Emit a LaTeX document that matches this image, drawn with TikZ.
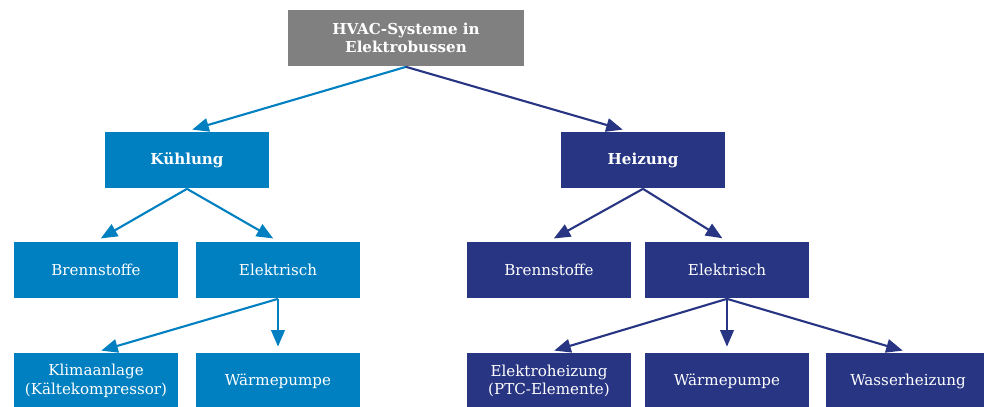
\documentclass[tikz,border=0pt]{standalone}
\usepackage{fontspec}
\setmainfont{DejaVu Serif}
\usetikzlibrary{arrows.meta}
\definecolor{hellblau}{RGB}{0,128,192}
\definecolor{dunkelblau}{RGB}{40,53,131}
\definecolor{grau}{RGB}{128,128,128}
\tikzset{
  kasten/.style={rectangle, minimum width=3.28cm, minimum height=1.14cm,
    inner sep=1pt, align=center, text=white, font=\fontsize{8.6}{10.6}\selectfont},
  kalt/.style={kasten, fill=hellblau},
  warm/.style={kasten, fill=dunkelblau},
  fett/.style={font=\fontsize{8.6}{10.6}\selectfont\bfseries},
  pfeil/.style={-{Triangle[length=3.3mm, width=2.7mm]}, line width=1.2pt, shorten >=1.1mm}
}
\begin{document}
\begin{tikzpicture}[x=0.02cm, y=-0.02cm]
\useasboundingbox (0,0) rectangle (984,406);
\begin{scope}
\clip (0,0) rectangle (984,406);
% Kaesten
\node[kasten, fill=grau, minimum width=4.72cm, fett] (hvac) at (406,38) {HVAC-Systeme in\\Elektrobussen};
\node[kalt, fett] (kuehl) at (187,160) {Kühlung};
\node[warm, fett] (heiz) at (643,160) {Heizung};
\node[kalt] (kbrenn) at (96,270) {Brennstoffe};
\node[kalt] (kelek) at (278,270) {Elektrisch};
\node[warm] (hbrenn) at (549,270) {Brennstoffe};
\node[warm] (helek) at (727,270) {Elektrisch};
\node[kalt] (kklima) at (96,381) {Klimaanlage\\(Kältekompressor)};
\node[kalt] (kwp) at (278,381) {Wärmepumpe};
\node[warm] (hptc) at (549,381) {Elektroheizung\\(PTC-Elemente)};
\node[warm] (hwp) at (727,381) {Wärmepumpe};
\node[warm] (hwasser) at (908,381) {Wasserheizung};
% Pfeile
\draw[pfeil, hellblau] (hvac.south) -- (kuehl.north);
\draw[pfeil, dunkelblau] (hvac.south) -- ([xshift=-0.3cm]heiz.north);
\draw[pfeil, hellblau] (kuehl.south) -- (kbrenn.north);
\draw[pfeil, hellblau] (kuehl.south) -- (kelek.north);
\draw[pfeil, dunkelblau] (heiz.south) -- (hbrenn.north);
\draw[pfeil, dunkelblau] (heiz.south) -- (helek.north);
\draw[pfeil, hellblau] (kelek.south) -- (kklima.north);
\draw[pfeil, hellblau] (kelek.south) -- (kwp.north);
\draw[pfeil, dunkelblau] (helek.south) -- (hptc.north);
\draw[pfeil, dunkelblau] (helek.south) -- (hwp.north);
\draw[pfeil, dunkelblau] (helek.south) -- (hwasser.north);
\end{scope}
\end{tikzpicture}
\end{document}
